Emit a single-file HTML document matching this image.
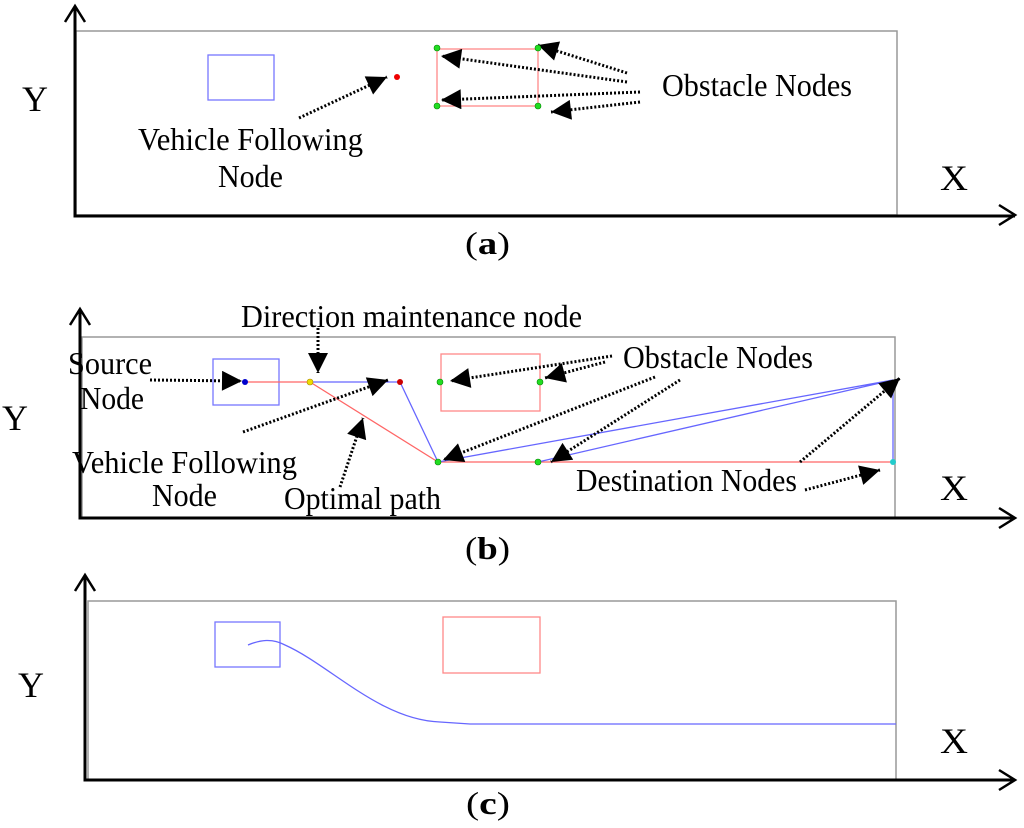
<!DOCTYPE html>
<html><head><meta charset="utf-8"><style>
html,body{margin:0;padding:0;background:#fff;width:1024px;height:828px;overflow:hidden}
text{font-family:"Liberation Serif",serif;fill:#000}
</style></head><body>
<svg width="1024" height="828" viewBox="0 0 1024 828" xmlns="http://www.w3.org/2000/svg">
<defs>
<marker id="h" viewBox="0 0 10 10" refX="10" refY="5" markerWidth="24" markerHeight="20" markerUnits="userSpaceOnUse" orient="auto">
<path d="M0,0 L10,5 L0,10 z" fill="#000"/>
</marker>
</defs>
<g fill="none" stroke-linecap="butt">
<!-- Panel a -->
<rect x="76" y="31" width="821" height="184" stroke="#999" stroke-width="1.5"/>
<path d="M75,6 V216 H1015" stroke="#000" stroke-width="3"/>
<path d="M65,22 L75,6 L85,22 M999,205 L1015,215 L999,225" stroke="#000" stroke-width="2.5"/>
<rect x="208" y="55" width="66" height="45" stroke="#7777ff" stroke-width="1.3"/>
<rect x="437" y="49" width="101" height="57" stroke="#ff8888" stroke-width="1.3"/>
<!-- Panel b -->
<rect x="82" y="337" width="813" height="181" stroke="#999" stroke-width="1.5"/>
<path d="M80,309 V518 H1015" stroke="#000" stroke-width="3"/>
<path d="M70,325 L80,309 L90,325 M999,508 L1015,518 L999,528" stroke="#000" stroke-width="2.5"/>
<rect x="213" y="359" width="66" height="46" stroke="#7777ff" stroke-width="1.3"/>
<rect x="441" y="354" width="99" height="57" stroke="#ff8888" stroke-width="1.3"/>
<path d="M245,382 H310 M310,382 L438,462 M438,462 H893" stroke="#ff6666" stroke-width="1.3"/>
<path d="M310,382 H400 L438,462 M438,462 L893,380 M538,462 L893,380 M893,380 V462" stroke="#6666ff" stroke-width="1.3"/>
<!-- Panel c -->
<rect x="88" y="601" width="808" height="179" stroke="#999" stroke-width="1.5"/>
<path d="M85,575 V780 H1015" stroke="#000" stroke-width="3"/>
<path d="M75,591 L85,575 L95,591 M999,770 L1015,780 L999,790" stroke="#000" stroke-width="2.5"/>
<rect x="215" y="622" width="65" height="45" stroke="#7777ff" stroke-width="1.3"/>
<rect x="443" y="617" width="97" height="56" stroke="#ff8888" stroke-width="1.3"/>
<path d="M248,645 C260,640 272,638 285,645 C330,665 380,720 440,722 L470,724 H896" stroke="#6666ff" stroke-width="1.3"/>
<!-- dotted arrows -->
<g stroke="#000" stroke-width="3" stroke-dasharray="2,2" marker-end="url(#h)">
<path d="M299,118 L387,77"/>
<path d="M627,73 L538,45"/>
<path d="M627,82 L441,56"/>
<path d="M640,92 L441,100"/>
<path d="M640,102 L551,112"/>
<path d="M150,380 L242,381"/>
<path d="M318,328 L318,373"/>
<path d="M243,432 L388,380"/>
<path d="M340,487 L363,418"/>
<path d="M612,356 L450,381"/>
<path d="M605,362 L545,378"/>
<path d="M655,377 L443,460"/>
<path d="M680,380 L551,462"/>
<path d="M800,462 L900,378"/>
<path d="M805,490 L880,470"/>
</g>
</g>
<!-- nodes -->
<circle cx="397" cy="77" r="3" fill="#e00"/>
<g fill="#2d2" stroke="#080" stroke-width=".6">
<circle cx="437" cy="48" r="3"/><circle cx="538" cy="48" r="3"/>
<circle cx="437" cy="106" r="3"/><circle cx="538" cy="106" r="3"/>
<circle cx="440" cy="382" r="3"/><circle cx="540" cy="382" r="3"/>
<circle cx="438" cy="462" r="3"/><circle cx="538" cy="462" r="3"/>
</g>
<circle cx="245" cy="382" r="3" fill="#00c"/>
<circle cx="310" cy="382" r="3" fill="#ed0" stroke="#a80" stroke-width=".6"/>
<circle cx="400" cy="382" r="3" fill="#c00"/>
<circle cx="893" cy="462" r="3" fill="#2cc"/>
<!-- text -->
<g font-size="32">
<text x="22" y="111" font-size="36" textLength="26" lengthAdjust="spacingAndGlyphs">Y</text>
<text x="940" y="190" font-size="36" textLength="28" lengthAdjust="spacingAndGlyphs">X</text>
<text x="662" y="96" textLength="190" lengthAdjust="spacingAndGlyphs">Obstacle Nodes</text>
<text x="138" y="150" textLength="225" lengthAdjust="spacingAndGlyphs">Vehicle Following</text>
<text x="218" y="187" textLength="65" lengthAdjust="spacingAndGlyphs">Node</text>
<text x="465" y="254" textLength="45" lengthAdjust="spacingAndGlyphs">(<tspan font-weight="bold">a</tspan>)</text>

<text x="2" y="430" font-size="36" textLength="26" lengthAdjust="spacingAndGlyphs">Y</text>
<text x="940" y="500" font-size="36" textLength="28" lengthAdjust="spacingAndGlyphs">X</text>
<text x="241" y="327" textLength="341" lengthAdjust="spacingAndGlyphs">Direction maintenance node</text>
<text x="623" y="368" textLength="190" lengthAdjust="spacingAndGlyphs">Obstacle Nodes</text>
<text x="68" y="374" textLength="84" lengthAdjust="spacingAndGlyphs">Source</text>
<text x="80" y="409" textLength="64" lengthAdjust="spacingAndGlyphs">Node</text>
<text x="72" y="473" textLength="225" lengthAdjust="spacingAndGlyphs">Vehicle Following</text>
<text x="152" y="506" textLength="65" lengthAdjust="spacingAndGlyphs">Node</text>
<text x="284" y="509" textLength="157" lengthAdjust="spacingAndGlyphs">Optimal path</text>
<text x="576" y="491" textLength="221" lengthAdjust="spacingAndGlyphs">Destination Nodes</text>
<text x="465" y="559" textLength="45" lengthAdjust="spacingAndGlyphs">(<tspan font-weight="bold">b</tspan>)</text>

<text x="18" y="697" font-size="36" textLength="26" lengthAdjust="spacingAndGlyphs">Y</text>
<text x="940" y="753" font-size="36" textLength="28" lengthAdjust="spacingAndGlyphs">X</text>
<text x="466" y="814" textLength="44" lengthAdjust="spacingAndGlyphs">(<tspan font-weight="bold">c</tspan>)</text>
</g>
</svg>
</body></html>
